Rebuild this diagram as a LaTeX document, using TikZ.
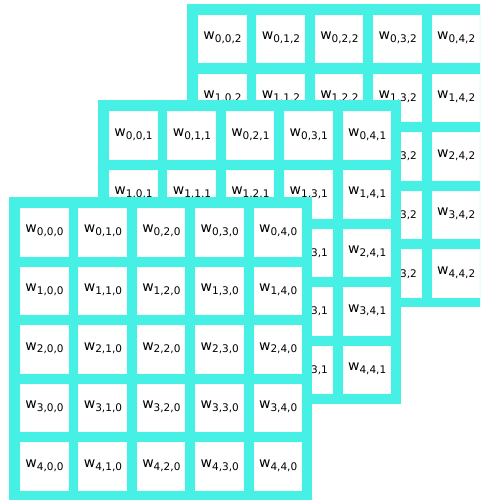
\documentclass[tikz,border=0pt]{standalone}
\usepackage{fontspec}
\setmainfont{DejaVu Sans}
\definecolor{turq}{RGB}{70,240,228}
\tikzset{
  layerbg/.style={fill=turq, draw=none},
  cellbox/.style={fill=white, draw=white!92!turq, line width=0.6pt, minimum width=47.5pt, minimum height=47.5pt, inner sep=0pt, anchor=north west},
}
\newcommand{\wlab}[3]{{\fontsize{14}{14}\selectfont w\raisebox{-2.8pt}{\fontsize{10.5}{10.5}\selectfont #1,#2,#3}}}
\begin{document}
\begin{tikzpicture}[x=1pt,y=-1pt]
\useasboundingbox (0,0) rectangle (480,500);
\clip (0,0) rectangle (480,500);
\foreach \k/\ox/\oy in {2/187/4, 1/98/100.5, 0/9/197}{
  \fill[layerbg] (\ox,\oy) rectangle ++(303,303);
  \foreach \i in {0,...,4}{
    \foreach \j in {0,...,4}{
      \node[cellbox] (c\i\j\k) at ({\ox+11+58.4*\j},{\oy+11+58.6*\i}) {};
      \node (t\i\j\k) at ([xshift=0.5pt,yshift=1pt]c\i\j\k.center) {\wlab{\i}{\j}{\k}};
    }
  }
}
\end{tikzpicture}
\end{document}
